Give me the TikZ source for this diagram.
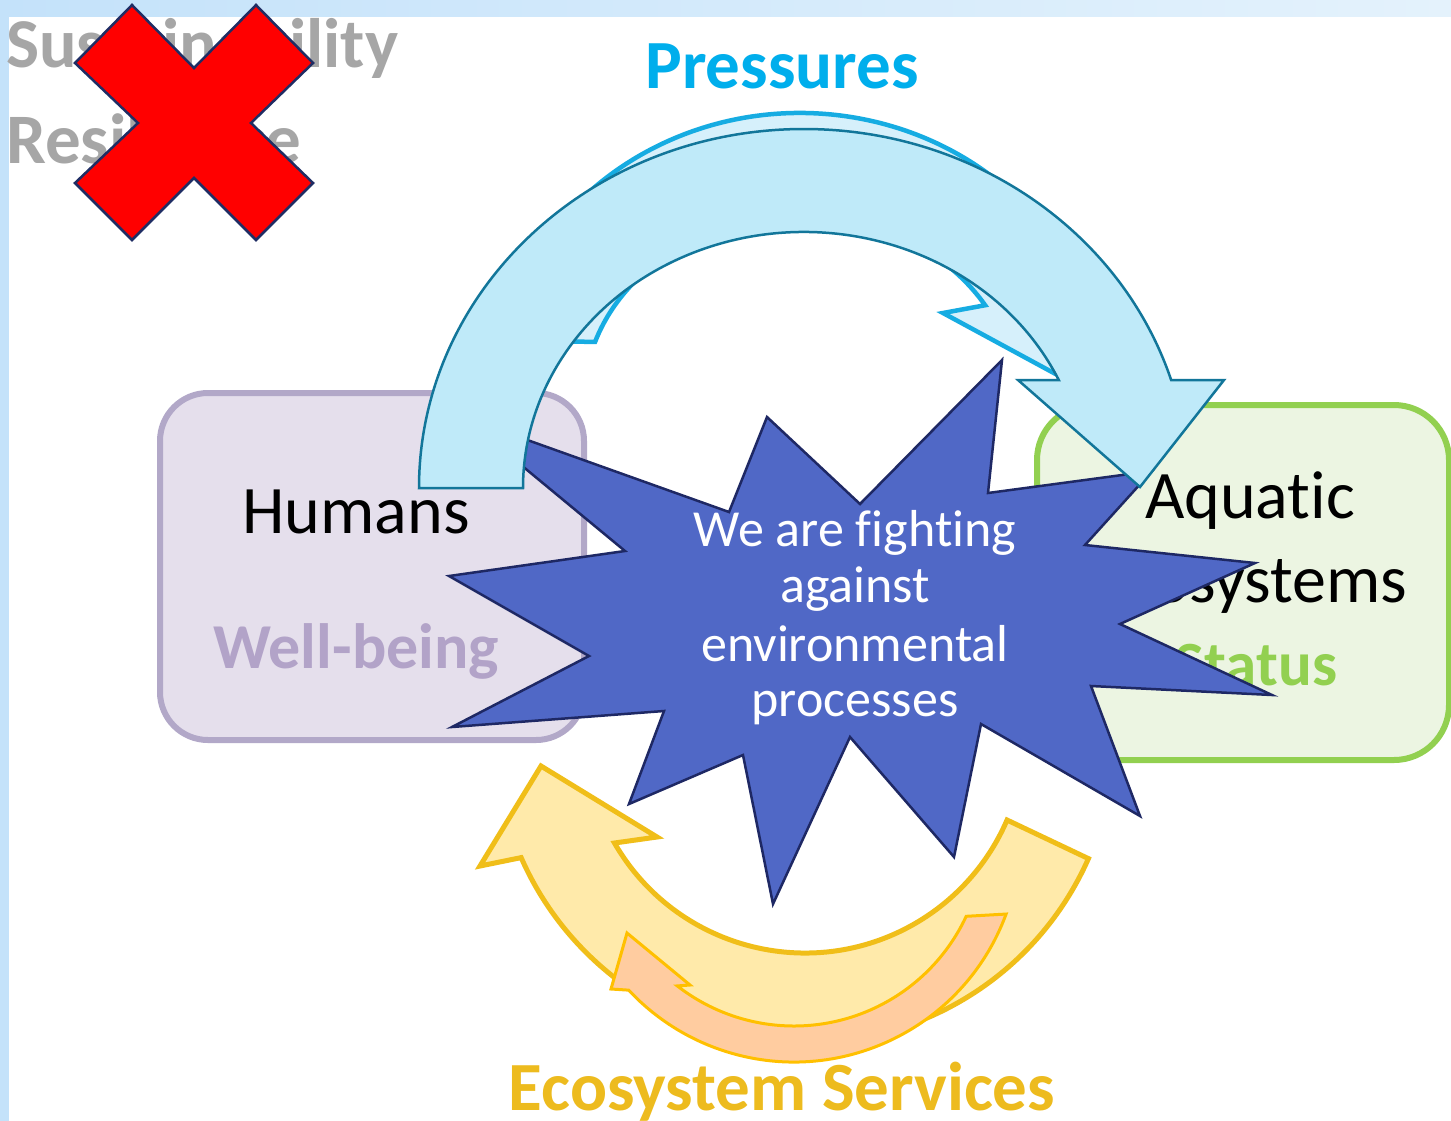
\documentclass[tikz,border=0pt]{standalone}
\usepackage{fontspec}
\setmainfont[Ligatures=NoCommon]{Carlito}
\definecolor{bgA}{RGB}{196,226,250}
\definecolor{bgB}{RGB}{228,242,252}
\definecolor{oldgray}{RGB}{166,166,166}
\definecolor{xred}{RGB}{255,0,0}
\definecolor{xedge}{RGB}{31,45,100}
\definecolor{pressc}{RGB}{0,174,236}
\definecolor{faintfill}{RGB}{214,240,251}
\definecolor{faintedge}{RGB}{22,172,226}
\definecolor{bigfill}{RGB}{191,234,249}
\definecolor{bigedge}{RGB}{18,118,154}
\definecolor{humfill}{RGB}{229,223,236}
\definecolor{humedge}{RGB}{178,168,200}
\definecolor{wellc}{RGB}{178,163,200}
\definecolor{aqfill}{RGB}{236,245,226}
\definecolor{aqedge}{RGB}{146,208,80}
\definecolor{starfill}{RGB}{80,104,198}
\definecolor{staredge}{RGB}{30,40,100}
\definecolor{yelfill}{RGB}{255,234,170}
\definecolor{yeledge}{RGB}{240,190,25}
\definecolor{orfill}{RGB}{255,204,160}
\definecolor{oredge}{RGB}{255,192,0}
\definecolor{esc}{RGB}{237,187,30}
\tikzset{
  lbl/.style={inner sep=0pt, anchor=base},
  bigtxt/.style={font={\fontsize{68}{80}\selectfont}},
  boldtxt/.style={font={\fontsize{#1}{80}\selectfont\bfseries}},
  startxt/.style={lbl, text=white, font={\fontsize{52}{60}\selectfont}},
  xmark/.style={fill=xred, draw=xedge, line width=2.5pt, line join=miter},
  boxshape/.style={draw, rounded corners=#1, line width=6pt, inner sep=0pt},
  faintarrow/.style={fill=faintfill, draw=faintedge, line width=4.5pt, line join=miter},
  bigarrow/.style={fill=bigfill, draw=bigedge, line width=2.5pt, line join=miter},
  starshape/.style={fill=starfill, draw=staredge, line width=2.5pt, line join=miter},
  yelarrow/.style={fill=yelfill, draw=yeledge, line width=5pt, line join=miter},
  orarrow/.style={fill=orfill, draw=oredge, line width=3pt, line join=miter},
}
\begin{document}
\begin{tikzpicture}[x=1pt, y=-1pt]
\useasboundingbox (0,0) rectangle (1451,1120);
% background
\shade[left color=bgA, right color=bgB] (0,0) rectangle (1451,1120);
\fill[white] (9,17) rectangle (1470,1140);

% old labels, crossed out
\node[lbl, anchor=base west, text=oldgray, boldtxt=70] (sust) at (6,67) {Sustainability};
\node[lbl, anchor=base west, text=oldgray, boldtxt=71] (resil) at (6,163) {Resilience};
\draw[xmark] (132,5) -- (194,68) -- (256,5) -- (313,63) -- (251,123) -- (313,183)
  -- (256,240) -- (194,178) -- (132,240) -- (75,183) -- (138,123) -- (75,63) -- cycle;

% Pressures label
\node[lbl, text=pressc, boldtxt=69] (press) at (782,88) {Pressures};

% boxes
\node[boxshape=48pt, draw=humedge, fill=humfill, minimum width=424pt, minimum height=347pt] (hum) at (372,566.5) {};
\node[boxshape=55pt, draw=aqedge, fill=aqfill, minimum width=412pt, minimum height=355pt] (aq) at (1243,582.5) {};
\node[lbl, bigtxt] (humans) at (356,533) {Humans};
\node[lbl, text=wellc, boldtxt=64] (well) at (356,668) {Well-being};
\node[lbl, bigtxt] (aqua) at (1250,518) {Aquatic};
\node[lbl, bigtxt] (ecos) at (1250,602) {Ecosystems};
\node[lbl, text=aqedge, boldtxt=63] (status) at (1256,685) {Status};

% ecosystem services arrows
\coordinate (yc) at (805,733);
\coordinate (oc) at (794,836);
\draw[yelarrow] ([shift={(23.9:310)}]yc) arc[start angle=23.9, end angle=156.3, radius=310]
  -- (480,866) -- (541,766) -- (657,837) -- ([shift={(150:220)}]yc)
  arc[start angle=150, end angle=23.3, radius=220] -- cycle;
\draw[orarrow] ([shift={(20.2:226)}]oc) arc[start angle=20.2, end angle=137, radius=226]
  -- (611,989) -- (627,933) -- (690,985) -- ([shift={(127.9:190)}]oc)
  arc[start angle=127.9, end angle=25, radius=190] -- cycle;
\node[lbl, text=esc, boldtxt=69] (es) at (782,1110) {Ecosystem Services};

% faint pressures arrow behind
\coordinate (fc) at (800,400);
\draw[faintarrow] ([shift={(192:306 and 287)}]fc) arc[start angle=192, end angle=320, x radius=306, y radius=287]
  -- (1085,255) -- (1063,378) -- (943,313) -- ([shift={(329:216 and 184)}]fc)
  arc[start angle=329, end angle=198.4, x radius=216, y radius=184] -- cycle;

% star
\draw[starshape] (1002,360) -- (988,493) -- (1152,471) -- (1085,545) -- (1255,563)
  -- (1120,624) -- (1272,695) -- (1091,686) -- (1140,816) -- (981,724) -- (954,857)
  -- (850,737) -- (773,904) -- (743,755) -- (629,804) -- (664,711) -- (452,727)
  -- (589,656) -- (449,576) -- (625,551) -- (463,417) -- (729,512) -- (767,417)
  -- (860,504) -- cycle;

% big pressures arrow
\coordinate (bc) at (804,488);
\draw[bigarrow] ([shift={(180:385 and 359)}]bc) arc[start angle=180, end angle=342.5, x radius=385, y radius=359]
  -- (1224,380) -- (1140,487) -- (1018,380) -- ([shift={(335.05:281 and 256)}]bc)
  arc[start angle=335.05, end angle=180, x radius=281, y radius=256] -- cycle;

% star text
\node[startxt] (f1) at (855,546) {We are fighting};
\node[startxt] (f2) at (855,602) {against};
\node[startxt] (f3) at (855,661) {environmental};
\node[startxt] (f4) at (855,716) {processes};
\end{tikzpicture}
\end{document}
